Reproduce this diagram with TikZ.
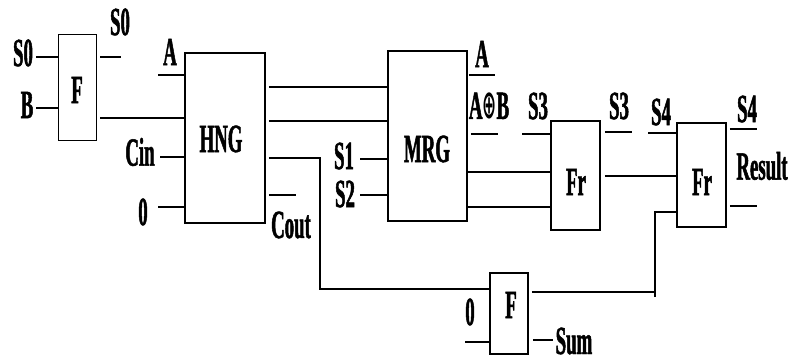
\documentclass[tikz,border=0pt]{standalone}
\usepackage{fontspec}
\newfontfamily\gatefont[FakeStretch=0.47,FakeBold=1.2]{Liberation Serif}
\newfontfamily\opfont[FakeStretch=0.42]{DejaVu Sans}
\usetikzlibrary{positioning,calc}
\tikzset{
  gate/.style={draw=black, line width=1.5pt, inner sep=0pt},
  wire/.style={line width=1.5pt, color=black},
  lbl/.style={inner sep=0pt, font=\gatefont\bfseries\fontsize{40}{40}\selectfont},
}
\begin{document}
\begin{tikzpicture}[x=1pt,y=-1pt]
  \useasboundingbox (0,0) rectangle (791,363);
  % gates
  \node[gate, minimum width=38pt, minimum height=106pt] (f1) at (77.5,87.5) {};
  \node[gate, minimum width=80pt, minimum height=170pt] (hng) at (225,138) {};
  \node[gate, minimum width=79pt, minimum height=170pt] (mrg) at (427.5,136) {};
  \node[gate, minimum width=49pt, minimum height=109pt] (fr1) at (575.5,175.5) {};
  \node[gate, minimum width=49pt, minimum height=104pt] (fr2) at (701.5,175) {};
  \node[gate, minimum width=38pt, minimum height=81pt] (f2) at (509,313.5) {};
  \node[lbl] (f1t) at (77,90) {F};
  \node[lbl] (hngt) at (221,139) {HNG};
  \node[lbl] (mrgt) at (427,149) {MRG};
  \node[lbl] (fr1t) at (576,182) {Fr};
  \node[lbl] (fr2t) at (702,182) {Fr};
  \node[lbl] (f2t) at (511,305) {F};

  % free ends of the short port lines
  \coordinate (s0i) at (36,57);
  \coordinate (bi) at (36,108);
  \coordinate (s0o) at (121,57);
  \coordinate (ai) at (158,75);
  \coordinate (cini) at (160,157);
  \coordinate (zi) at (158,207);
  \coordinate (couto) at (296,195);
  \coordinate (cbend) at (320,158);
  \coordinate (s1i) at (360,159);
  \coordinate (s2i) at (360,195);
  \coordinate (ao) at (495,75);
  \coordinate (xo) at (498,134);
  \coordinate (s3i) at (522,134);
  \coordinate (s3o) at (632,132);
  \coordinate (s4i) at (648,133);
  \coordinate (s4o) at (757,129);
  \coordinate (reso) at (757,206);
  \coordinate (fbend) at (655,212);
  \coordinate (fbot) at (655,297);
  \coordinate (zi2) at (465,342);
  \coordinate (sumo) at (553,340);

  % F
  \draw[wire] (s0i) -- (s0i -| f1.west);
  \draw[wire] (bi) -- (bi -| f1.west);
  \draw[wire] ($(f1.east |- s0o)+(3,0)$) -- (s0o);
  \draw[wire] ($(f1.east |- 0,118)+(3,0)$) -- (hng.west |- 0,118);
  % HNG
  \draw[wire] (ai) -- (ai -| hng.west);
  \draw[wire] (cini) -- (cini -| hng.west);
  \draw[wire] (zi) -- (zi -| hng.west);
  \draw[wire] ($(hng.east |- 0,87)+(3,0)$) -- (mrg.west |- 0,87);
  \draw[wire] ($(hng.east |- 0,121)+(3,0)$) -- (mrg.west |- 0,121);
  \draw[wire] ($(hng.east |- cbend)+(3,0)$) -- (cbend) |- (f2.west |- 0,289);
  \draw[wire] ($(hng.east |- couto)+(3,0)$) -- (couto);
  % MRG
  \draw[wire] (s1i) -- (s1i -| mrg.west);
  \draw[wire] (s2i) -- (s2i -| mrg.west);
  \draw[wire] ($(mrg.east |- ao)+(1,0)$) -- (ao);
  \draw[wire] ($(mrg.east |- xo)+(3,0)$) -- (xo);
  \draw[wire] (mrg.east |- 0,172) -- (fr1.west |- 0,172);
  \draw[wire] (mrg.east |- 0,207) -- (fr1.west |- 0,207);
  % Fr
  \draw[wire] (s3i) -- (s3i -| fr1.west);
  \draw[wire] ($(fr1.east |- s3o)+(4,0)$) -- (s3o);
  \draw[wire] ($(fr1.east |- 0,176)+(4,0)$) -- (fr2.west |- 0,176);
  \draw[wire] (s4i) -- (s4i -| fr2.west);
  \draw[wire] ($(fr2.east |- s4o)+(3,0)$) -- (s4o);
  \draw[wire] ($(fr2.east |- reso)+(3,0)$) -- (reso);
  % F (bottom)
  \draw[wire] (zi2) -- (zi2 -| f2.west);
  \draw[wire] ($(f2.east |- sumo)+(4,0)$) -- (sumo);
  \draw[wire] ($(f2.east |- 0,292)+(3,0)$) -- (fbot |- 0,292);
  \draw[wire] (fbot) -- (fbend) -- (fr2.west |- fbend);

  % labels
  \node[lbl] (ls0i) at (23,53) {S0};
  \node[lbl] (lbi) at (27,105) {B};
  \node[lbl] (ls0o) at (120,22) {S0};
  \node[lbl] (lai) at (170,52) {A};
  \node[lbl] (lcin) at (140,152) {Cin};
  \node[lbl] (lzi) at (143,212) {0};
  \node[lbl] (lcout) at (291,225) {Cout};
  \node[lbl] (ls1) at (344,156) {S1};
  \node[lbl] (ls2) at (345,194) {S2};
  \node[lbl] (lao) at (482,54) {A};
  \node[lbl] (lxo) at (489,106) {A{\opfont\bfseries ⊕}B};
  \node[lbl] (ls3i) at (538,106) {S3};
  \node[lbl] (ls3o) at (619,106) {S3};
  \node[lbl] (ls4i) at (661,112) {S4};
  \node[lbl] (ls4o) at (747,109) {S4};
  \node[lbl] (lres) at (762,166) {Result};
  \node[lbl] (lzi2) at (470,312) {0};
  \node[lbl] (lsum) at (574,341) {Sum};
\end{tikzpicture}
\end{document}
